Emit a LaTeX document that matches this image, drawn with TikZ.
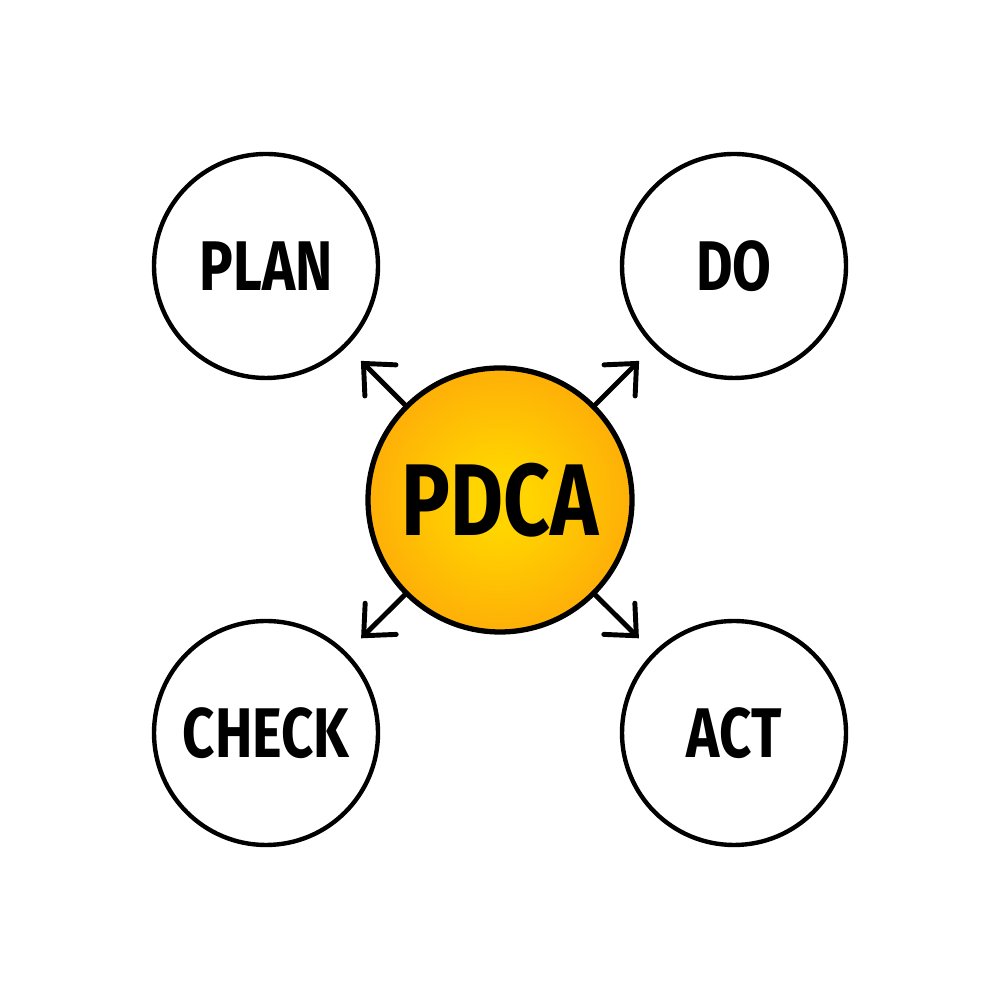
\documentclass[tikz,border=0pt]{standalone}
\usepackage{fontspec}
\setmainfont{Fira Sans}
\newfontfamily\manofont[FakeStretch=0.8]{Fira Sans}
\usetikzlibrary{arrows.meta}

\definecolor{pdcagiallo}{RGB}{255,212,0}
\definecolor{pdcaarancio}{RGB}{253,150,12}
\pgfdeclareradialshading{pdcasole}{\pgfpoint{0bp}{0bp}}{%
  color(0bp)=(pdcagiallo); color(6bp)=(pdcagiallo);
  color(30bp)=(pdcaarancio!75!pdcagiallo);
  color(46bp)=(pdcaarancio); color(50bp)=(pdcaarancio)}

\begin{document}
\begin{tikzpicture}[
    fase/.style={circle, draw, line width=1.25pt, minimum size=2.24cm,
                 inner sep=0pt, font=\manofont\bfseries\fontsize{20}{20}\selectfont},
    centro/.style={circle, draw, line width=1.5pt, minimum size=2.64cm,
                   inner sep=0pt, shading=pdcasole,
                   font=\manofont\bfseries\fontsize{29}{29}\selectfont},
    freccia/.style={-{Straight Barb[length=2.4mm,width=4.4mm,line width=1.4pt,line cap=round]},
                    line width=1.4pt, line cap=round, shorten >=0.2cm}]
    \useasboundingbox (0,0) rectangle (10,10);

    % Cerchio centrale
    \node[centro] (pdca) at (5,5) {PDCA};

    % Le quattro fasi
    \node[fase] (plan)  at (2.66,7.34) {PLAN};
    \node[fase] (do)    at (7.34,7.34) {DO};
    \node[fase] (check) at (2.66,2.67) {CHECK};
    \node[fase] (act)   at (7.34,2.67) {ACT};

    % Frecce dal centro verso le fasi
    \draw[freccia] (pdca) -- (plan);
    \draw[freccia] (pdca) -- (do);
    \draw[freccia] (pdca) -- (check);
    \draw[freccia] (pdca) -- (act);
\end{tikzpicture}
\end{document}
